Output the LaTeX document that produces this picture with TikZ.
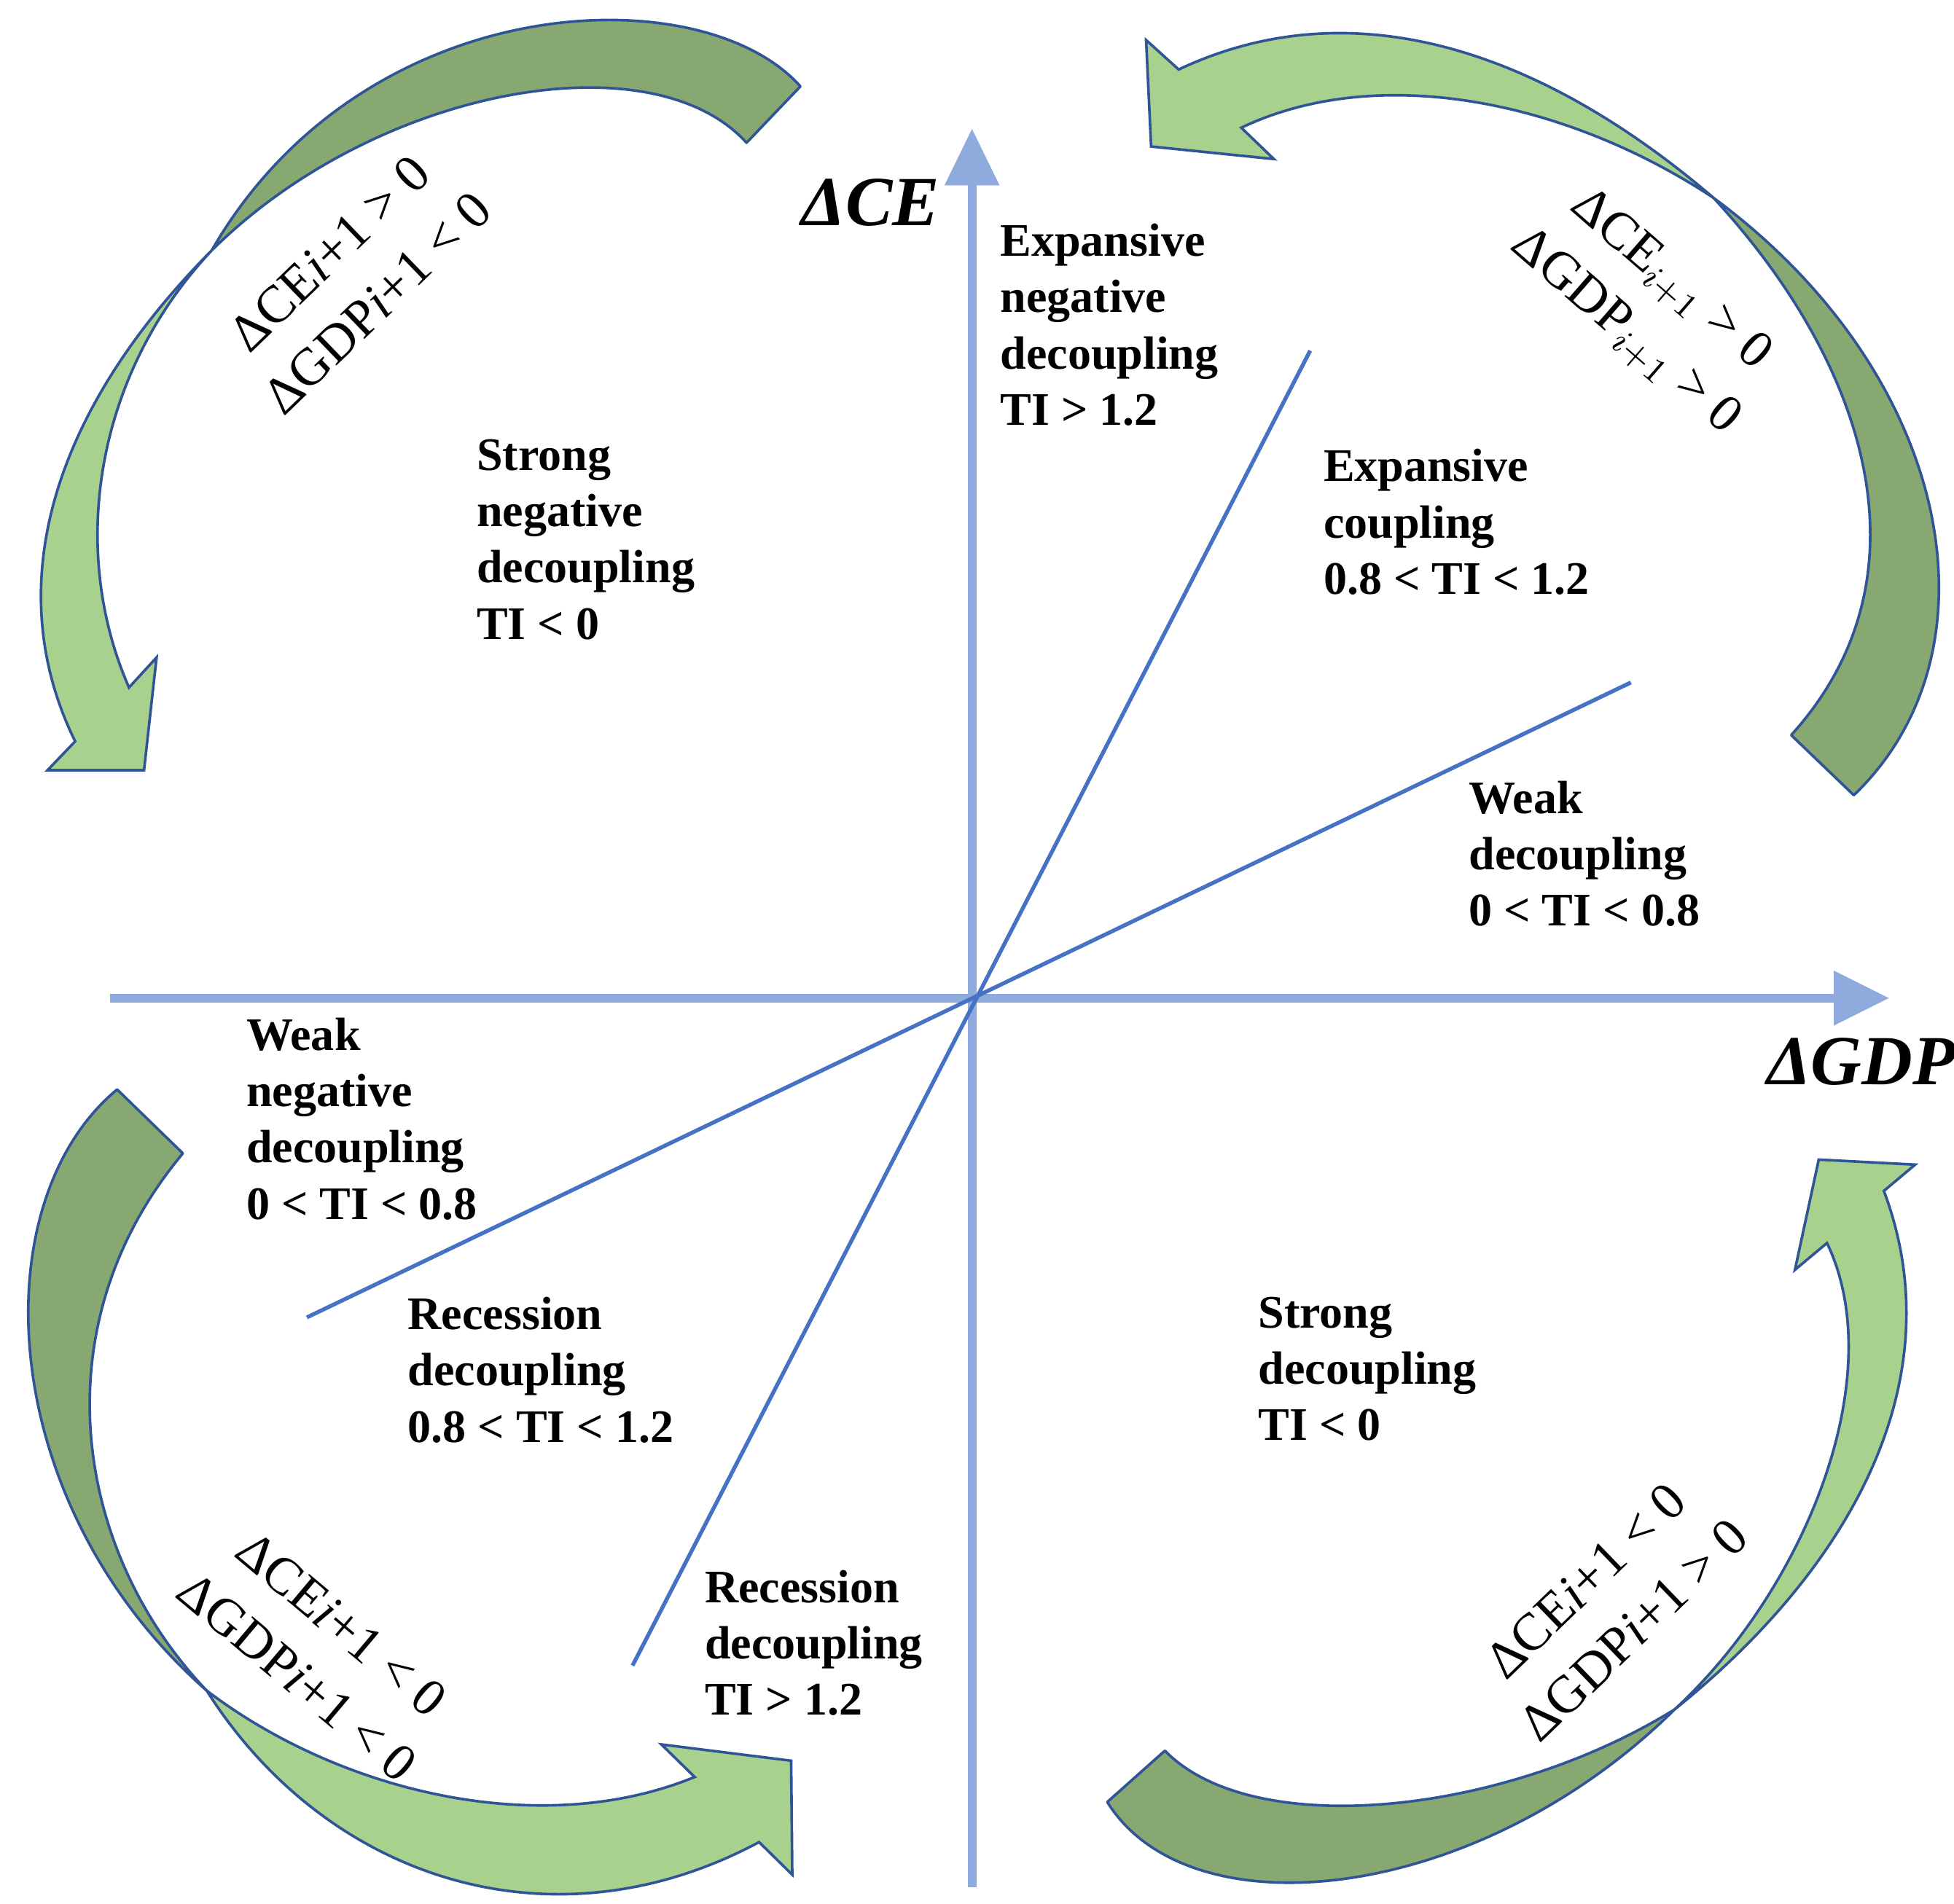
\documentclass[tikz,border=0pt]{standalone}
\usepackage{fontspec}
\setmainfont{Liberation Serif}
\definecolor{darkg}{HTML}{88A872}
\definecolor{lightg}{HTML}{A9D18E}
\definecolor{edge}{HTML}{2F5597}
\definecolor{axis}{HTML}{8FAADC}
\definecolor{diag}{HTML}{4472C4}
\tikzset{
  back/.style={fill=darkg,draw=edge,line width=0.6pt,line join=round},
  front/.style={fill=lightg,draw=edge,line width=0.6pt,line join=miter},
  zone/.style={anchor=north west,inner sep=0pt,align=left,font=\fontsize{10.6}{12.8}\selectfont\bfseries},
  cond/.style={inner sep=0pt,align=center,font=\fontsize{12}{15.6}\selectfont},
  axlab/.style={inner sep=0pt,font=\fontsize{16}{18}\selectfont\itshape\bfseries},
  axisline/.style={draw=axis,line width=2pt},
  diagline/.style={draw=diag,line width=0.9pt}
}
\begin{document}
\begin{tikzpicture}[x=0.1mm,y=-0.1mm]
\useasboundingbox (0,0) rectangle (1560,1520);
% axes
\coordinate (O) at (776,797);
\coordinate (xl) at (88,797);
\coordinate (xb) at (1466,797);
\coordinate (yb) at (776,146);
\coordinate (yl) at (776,1507);
\draw[axisline] (xl) -- (xb);
\draw[axisline] (yl) -- (yb);
\fill[axis] (1508,797) -- (1464,775) -- (1464,819) -- cycle;
\fill[axis] (776,103) -- (754,148) -- (798,148) -- cycle;
% diagonals
\coordinate (d1a) at (1046,280); \coordinate (d1b) at (505,1330);
\coordinate (d2a) at (1302,545); \coordinate (d2b) at (245,1052);
\draw[diagline] (d1a) -- (d1b);
\draw[diagline] (d2a) -- (d2b);
% top-left arrow
\path[back] (639,69) .. controls (560,-20) and (290,-10) .. (169,200) .. controls (300,70) and (520,30) .. (596,114) -- cycle;
\path[front] (169,200) .. controls (40,330) and (0,470) .. (60,592) -- (38,615) -- (115,615) -- (125,525) -- (103,549) .. controls (55,440) and (75,300) .. (169,200) -- cycle;
% top-right arrow
\path[back] (1480,635) .. controls (1600,520) and (1560,300) .. (1368,158) .. controls (1490,290) and (1545,460) .. (1430,587) -- cycle;
\path[front] (1368,158) .. controls (1230,40) and (1080,-10) .. (941,55.5) -- (915,32) -- (919,117) -- (1017,127) -- (991,102) .. controls (1100,50) and (1250,80) .. (1368,158) -- cycle;
% bottom-right arrow
\path[back] (884,1439) .. controls (950,1545) and (1180,1520) .. (1337,1365) .. controls (1200,1450) and (1000,1470) .. (930,1398) -- cycle;
\path[front] (1337,1365) .. controls (1480,1250) and (1560,1100) .. (1504,951) -- (1529,930) -- (1452,926) -- (1433,1014) -- (1458.6,992.6) .. controls (1510,1100) and (1440,1270) .. (1337,1365) -- cycle;
% bottom-left arrow
\path[back] (93.5,870) .. controls (-15,960) and (-5,1200) .. (165,1350) .. controls (60,1240) and (30,1060) .. (146,921) -- cycle;
\path[front] (165,1350) .. controls (260,1500) and (440,1560) .. (606,1471) -- (632.5,1497) -- (631.6,1406) -- (528,1393) -- (554.6,1419) .. controls (430,1470) and (270,1430) .. (165,1350) -- cycle;
% axis labels
\node[axlab] (ce) at (695,162) {ΔCE};
\node[axlab] (gdp) at (1486,848) {ΔGDP};
% zone labels
\node[zone] (z1) at (798,178) {Expansive\\negative\\decoupling\\TI > 1.2};
\node[zone] (z2) at (380,350) {Strong\\negative\\decoupling\\TI < 0};
\node[zone] (z3) at (1056,358) {Expansive\\coupling\\0.8 < TI < 1.2};
\node[zone] (z4) at (1172,623) {Weak\\decoupling\\0 < TI < 0.8};
\node[zone] (z5) at (196,812) {Weak\\negative\\decoupling\\0 < TI < 0.8};
\node[zone] (z6) at (325,1035) {Recession\\decoupling\\0.8 < TI < 1.2};
\node[zone] (z7) at (1004,1035) {Strong\\decoupling\\TI < 0};
\node[zone] (z8) at (562,1253) {Recession\\decoupling\\TI > 1.2};
% condition labels
\node[cond,rotate=44] (c1) at (282,222) {ΔCE\textit{i}+1 > 0\\ΔGDP\textit{i}+1 < 0};
\node[cond,rotate=-41] (c2) at (1315,245) {ΔCE$_{i+1}$ > 0\\ΔGDP$_{i+1}$ > 0};
\node[cond,rotate=44] (c3) at (1285,1282) {ΔCE\textit{i}+1 < 0\\ΔGDP\textit{i}+1 > 0};
\node[cond,rotate=-40] (c4) at (255,1318) {ΔCE\textit{i}+1 < 0\\ΔGDP\textit{i}+1 < 0};
\end{tikzpicture}
\end{document}
